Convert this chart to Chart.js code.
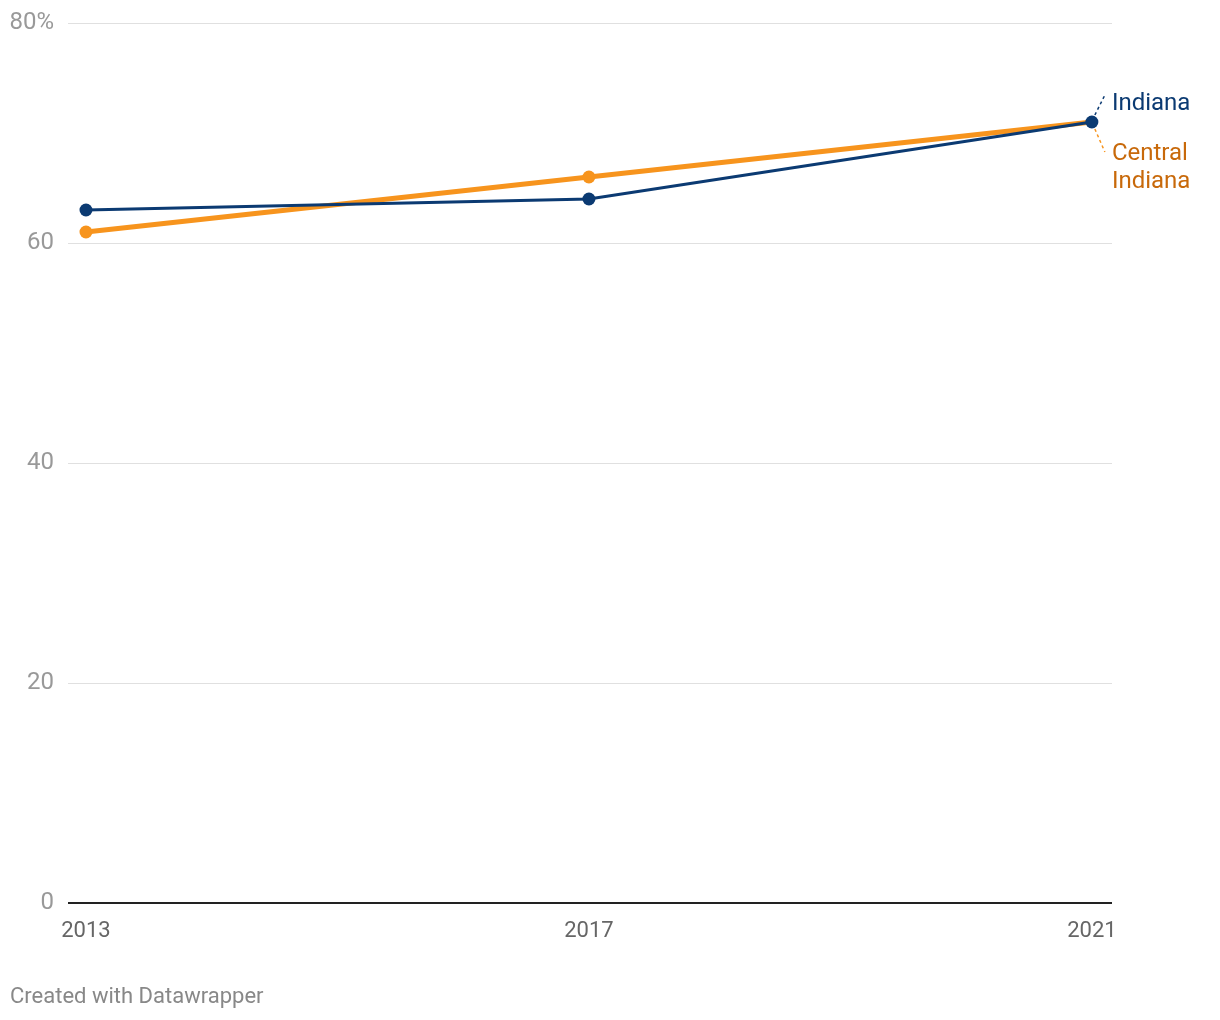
<!DOCTYPE html>
<html>
<head>
<meta charset="utf-8">
<script src="https://cdn.jsdelivr.net/npm/chart.js@4"></script>
<style>
  body { margin: 0; background: #fff; font-family: Roboto, sans-serif; }
  #wrap { position: relative; width: 1220px; height: 1020px; }
  #footer { position: absolute; left: 10px; top: 983px; font-size: 22px; line-height: 26px; color: #888; }
</style>
</head>
<body>
<div id="wrap">
  <canvas id="lineCanvas" width="1220" height="1020"></canvas>
  <div id="footer">Created with Datawrapper</div>
</div>
<script>
const years = [2013, 2017, 2021];
const indiana = [63, 64, 71];
const centralIndiana = [61, 66, 71];
const yTicks = [0, 20, 40, 60, 80];

const navy = "#0b3a72";
const orange = "#f7941d";

// end labels with dashed leader lines
const endLabels = {
    id: "endLabels",
    afterDatasetsDraw(chart) {
        const ctx = chart.ctx;
        const pt = chart.getDatasetMeta(1).data[2];
        ctx.save();
        ctx.setLineDash([3, 3]);
        ctx.lineWidth = 1.5;
        ctx.strokeStyle = navy;
        ctx.beginPath();
        ctx.moveTo(pt.x + 3, pt.y - 7);
        ctx.lineTo(pt.x + 13, pt.y - 27);
        ctx.stroke();
        ctx.strokeStyle = orange;
        ctx.beginPath();
        ctx.moveTo(pt.x + 3, pt.y + 7);
        ctx.lineTo(pt.x + 13, pt.y + 30);
        ctx.stroke();
        ctx.setLineDash([]);
        ctx.font = "24px Roboto";
        ctx.textBaseline = "middle";
        ctx.textAlign = "left";
        ctx.fillStyle = navy;
        ctx.fillText("Indiana", pt.x + 20, pt.y - 18);
        ctx.fillStyle = "#c8690a";
        ctx.fillText("Central", pt.x + 20, pt.y + 32);
        ctx.fillText("Indiana", pt.x + 20, pt.y + 60);
        ctx.restore();
    }
};

const lineCanvas = document.getElementById("lineCanvas");
const lineChart = new Chart(lineCanvas, {
    type: "line",
    data: {
        datasets: [{
            label: "Central Indiana",
            data: years.map((y, i) => ({ x: y, y: centralIndiana[i] })),
            borderColor: orange,
            backgroundColor: orange,
            borderWidth: 5,
            pointRadius: [6.5, 6.5, 0],
            pointHoverRadius: 6,
            pointBorderWidth: 0,
            order: 2
        }, {
            label: "Indiana",
            data: years.map((y, i) => ({ x: y, y: indiana[i] })),
            borderColor: navy,
            backgroundColor: navy,
            borderWidth: 3,
            pointRadius: 6.5,
            pointBorderWidth: 0,
            order: 1
        }]
    },
    options: {
        responsive: false,
        animation: false,
        layout: { padding: { top: 23, right: 108, bottom: 67, left: 0 } },
        plugins: { legend: { display: false }, tooltip: { enabled: false } },
        scales: {
            x: {
                type: "linear",
                min: 2012.857,
                max: 2021.16,
                afterBuildTicks: (scale) => { scale.ticks = years.map(v => ({ value: v })); },
                afterFit: (scale) => { scale.height = 50; },
                grid: { display: false },
                border: { display: false },
                ticks: {
                    callback: (v) => String(v),
                    color: "#666",
                    font: { family: "Roboto", size: 22 },
                    padding: 7,
                    maxRotation: 0
                }
            },
            y: {
                min: 0,
                max: 80,
                afterBuildTicks: (scale) => { scale.ticks = yTicks.map(v => ({ value: v })); },
                afterFit: (scale) => {
                    scale.width = 68;
                    scale.paddingTop = 0;
                    scale.paddingBottom = 0;
                },
                border: { display: false },
                grid: {
                    drawTicks: false,
                    color: (c) => c.tick.value === 0 ? "#222" : "#e0e0e0",
                    lineWidth: (c) => c.tick.value === 0 ? 2 : 1
                },
                ticks: {
                    callback: (v) => v === 80 ? "80%" : String(v),
                    color: "#999",
                    font: { family: "Roboto", size: 24 },
                    padding: 14
                }
            }
        }
    },
    plugins: [endLabels]
});
</script>
</body>
</html>
